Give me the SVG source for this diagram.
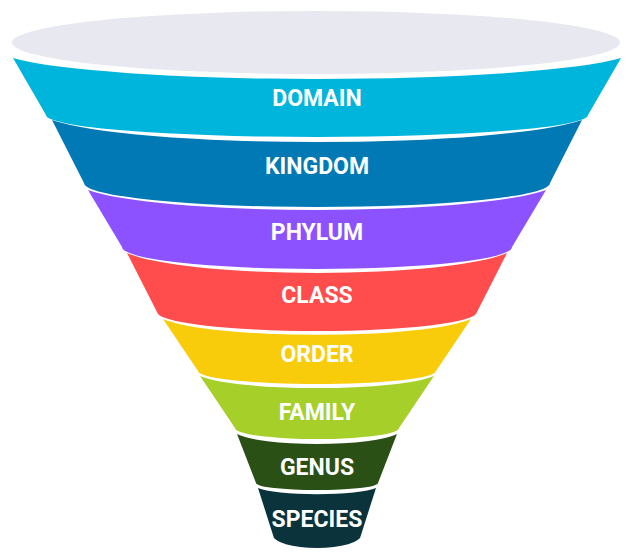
<svg xmlns="http://www.w3.org/2000/svg" width="636" height="558" viewBox="0 0 636 558">
  <style>
    .lbl { font-family: Roboto, "Liberation Sans", Arial, sans-serif; font-weight: 700; font-size: 23px; fill: #ffffff; text-anchor: middle; }
  </style>
  <rect width="636" height="558" fill="#ffffff"/>
  <g id="funnel-top">
    <ellipse cx="316" cy="42.5" rx="304" ry="31.5" fill="#e8e8f1"/>
  </g>
  <g id="domain">
    <path d="M13,58 A320,30.5 0 0 0 621,58 L588,115 A271,22 0 0 1 46,115 Z" fill="#00b5dc"/>
    <text class="lbl" x="317" y="106">DOMAIN</text>
  </g>
  <g id="kingdom">
    <path d="M52,120 A279,32 0 0 0 582,120 L550,183 A233,24 0 0 1 84,183 Z" fill="#0079b5"/>
    <text class="lbl" x="317" y="174">KINGDOM</text>
  </g>
  <g id="phylum">
    <path d="M88,190 A241,29 0 0 0 546,190 L512,247 A195,22 0 0 1 122,247 Z" fill="#8c52ff"/>
    <text class="lbl" x="317" y="240">PHYLUM</text>
  </g>
  <g id="class">
    <path d="M127,253 A200,29 0 0 0 507,253 L477,312 A160,19 0 0 1 157,312 Z" fill="#ff4c4c"/>
    <text class="lbl" x="317" y="303">CLASS</text>
  </g>
  <g id="order">
    <path d="M163,319 A162,23 0 0 0 471,319 L436,371 A119,13 0 0 1 198,371 Z" fill="#f9cc0b"/>
    <text class="lbl" x="317" y="362">ORDER</text>
  </g>
  <g id="family">
    <path d="M200,376 A123,17.5 0 0 0 434,376 L399,428 A82,11 0 0 1 235,428 Z" fill="#a6cf2a"/>
    <text class="lbl" x="317" y="419.5">FAMILY</text>
  </g>
  <g id="genus">
    <path d="M237,434 A84,14.5 0 0 0 397,434 L378,483 A61,7 0 0 1 256,483 Z" fill="#2b5016"/>
    <text class="lbl" x="317" y="475">GENUS</text>
  </g>
  <g id="species">
    <path d="M258,488 A62,9 0 0 0 376,488 L361,535 A44,13 0 0 1 273,535 Z" fill="#0b333c"/>
    <text class="lbl" x="317" y="527">SPECIES</text>
  </g>
  <g id="connectors"></g>
</svg>
